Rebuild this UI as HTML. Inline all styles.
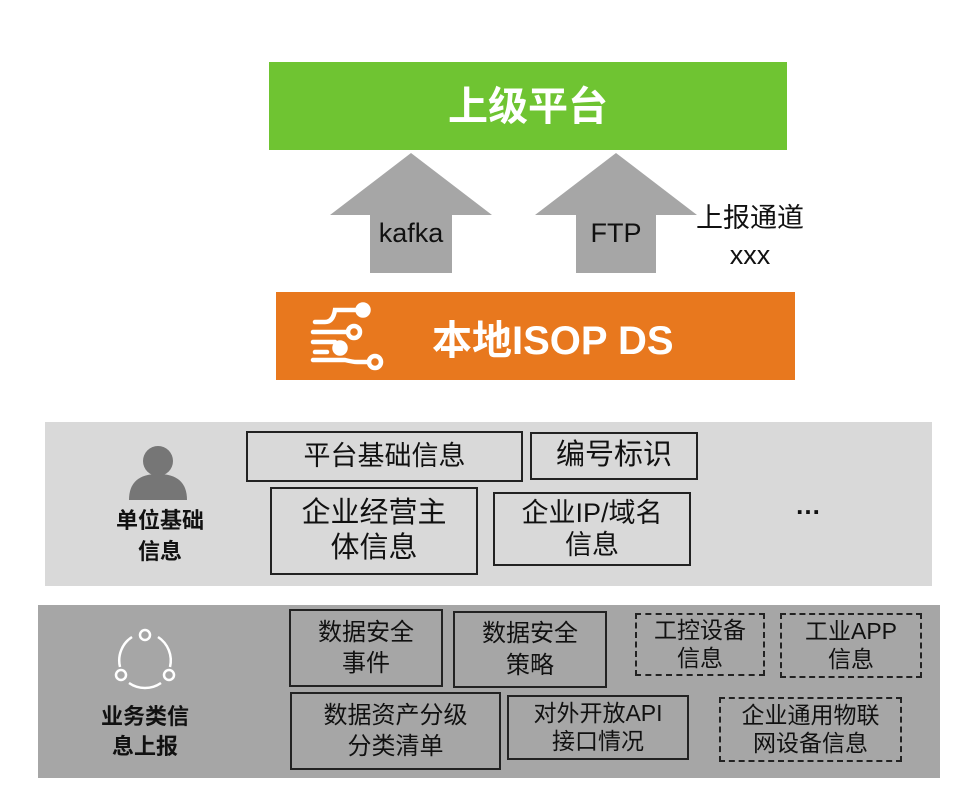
<!DOCTYPE html>
<html><head><meta charset="utf-8"><style>
body{margin:0;width:967px;height:807px;background:#fff;position:relative;overflow:hidden;font-family:"Liberation Sans","Noto Sans CJK SC",sans-serif;}
.a{position:absolute;box-sizing:border-box;}
.b{position:absolute;box-sizing:border-box;border:2px solid #222;display:flex;align-items:center;justify-content:center;text-align:center;color:#111;line-height:1.3;}
.t{position:absolute;text-align:center;color:#111;}
</style></head><body>
<div class="a" style="left:269px;top:62px;width:518px;height:88px;background:#6fc432;color:#fff;font-weight:bold;font-size:40px;display:flex;align-items:center;justify-content:center;padding-bottom:6px;">上级平台</div>
<svg class="a" style="left:0;top:0" width="967" height="300">
<polygon points="411,153 492,215 452,215 452,273 370,273 370,215 330,215" fill="#a6a6a6"/>
<polygon points="616,153 697,215 656,215 656,273 576,273 576,215 535,215" fill="#a6a6a6"/>
</svg>
<div class="t" style="left:351px;top:218px;width:120px;font-size:27px;">kafka</div>
<div class="t" style="left:556px;top:218px;width:120px;font-size:27px;">FTP</div>
<div class="t" style="left:680px;top:200px;width:140px;font-size:27px;line-height:37px;">上报通道<br>xxx</div>
<div class="a" style="left:276px;top:292px;width:519px;height:88px;background:#e8781e;"></div>
<svg class="a" style="left:305px;top:300px" width="90" height="75" fill="none" stroke="#fff" stroke-width="4.5" stroke-linecap="round">
<path d="M10,22 H20 Q28,22 30,10 H52"/><circle cx="58" cy="10" r="5.5" fill="#fff"/>
<path d="M8,32 H42"/><circle cx="49" cy="32" r="6"/>
<path d="M8,42 H30"/><circle cx="35" cy="48" r="5.5" fill="#fff"/>
<path d="M10,52 H22"/><path d="M8,60 H40 Q48,62 52,62 H62"/><circle cx="70" cy="62" r="6"/>
</svg>
<div class="a" style="left:432px;top:308px;font-size:40px;font-weight:bold;color:#fff;">本地ISOP DS</div>
<div class="a" style="left:45px;top:422px;width:887px;height:164px;background:#d9d9d9;"></div>
<svg class="a" style="left:125px;top:442px" width="66" height="60"><circle cx="33" cy="19" r="15" fill="#767676"/><path d="M4,58 Q4,32 33,32 Q62,32 62,58 Z" fill="#767676"/></svg>
<div class="t" style="left:90px;top:505px;width:140px;font-size:22px;font-weight:bold;line-height:31px;">单位基础<br>信息</div>
<div class="b" style="left:246px;top:431px;width:277px;height:51px;font-size:27px;">平台基础信息</div>
<div class="b" style="left:530px;top:432px;width:168px;height:48px;font-size:29px;">编号标识</div>
<div class="b" style="left:270px;top:487px;width:208px;height:88px;font-size:29px;line-height:1.2;">企业经营主<br>体信息</div>
<div class="b" style="left:493px;top:492px;width:198px;height:74px;font-size:27px;line-height:1.2;">企业IP/域名<br>信息</div>
<div class="t" style="left:778px;top:490px;width:60px;font-size:26px;font-weight:bold;">…</div>
<div class="a" style="left:38px;top:605px;width:902px;height:173px;background:#a6a6a6;"></div>
<svg class="a" style="left:110px;top:625px" width="70" height="70" fill="none" stroke="#fff" stroke-width="2.5">
<path d="M22,12 A28,28 0 0 0 10,42"/><path d="M48,12 A28,28 0 0 1 60,42"/><path d="M19,58 A28,28 0 0 0 51,58"/>
<circle cx="35" cy="10" r="5"/><circle cx="11" cy="50" r="5"/><circle cx="59" cy="50" r="5"/></svg>
<div class="t" style="left:75px;top:702px;width:140px;font-size:22px;font-weight:bold;line-height:30px;">业务类信<br>息上报</div>
<div class="b" style="left:289px;top:609px;width:154px;height:78px;font-size:24px;">数据安全<br>事件</div>
<div class="b" style="left:453px;top:611px;width:154px;height:77px;font-size:24px;">数据安全<br>策略</div>
<div class="b" style="left:635px;top:613px;width:130px;height:63px;font-size:23px;line-height:1.2;border-style:dashed;">工控设备<br>信息</div>
<div class="b" style="left:780px;top:613px;width:142px;height:65px;font-size:23px;line-height:1.2;border-style:dashed;">工业APP<br>信息</div>
<div class="b" style="left:290px;top:692px;width:211px;height:78px;font-size:24px;">数据资产分级<br>分类清单</div>
<div class="b" style="left:507px;top:695px;width:182px;height:65px;font-size:23px;line-height:1.2;">对外开放API<br>接口情况</div>
<div class="b" style="left:719px;top:697px;width:183px;height:65px;font-size:23px;line-height:1.2;border-style:dashed;">企业通用物联<br>网设备信息</div>
</body></html>
